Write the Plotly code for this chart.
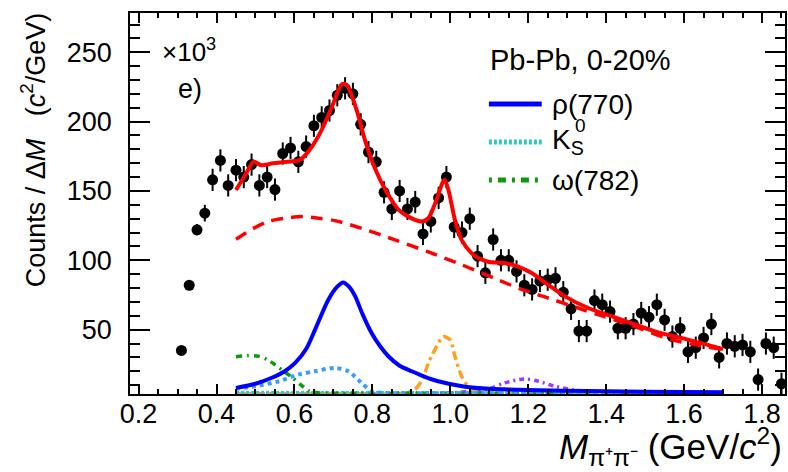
import plotly.graph_objects as go

# ---- measured spectrum: bin centres (GeV/c^2), counts and stat. errors (x10^3) ----
mass = [0.31, 0.33, 0.35, 0.37, 0.39, 0.41, 0.43, 0.45, 0.47, 0.49,
        0.51, 0.53, 0.55, 0.57, 0.59, 0.61, 0.63, 0.65, 0.67, 0.69,
        0.71, 0.73, 0.75, 0.77, 0.79, 0.81, 0.83, 0.85, 0.87, 0.89,
        0.91, 0.93, 0.95, 0.97, 0.99, 1.01, 1.03, 1.05, 1.07, 1.09,
        1.11, 1.13, 1.15, 1.17, 1.19, 1.21, 1.23, 1.25, 1.27, 1.29,
        1.31, 1.33, 1.35, 1.37, 1.39, 1.41, 1.43, 1.45, 1.47, 1.49,
        1.51, 1.53, 1.55, 1.57, 1.59, 1.61, 1.63, 1.65, 1.67, 1.69,
        1.71, 1.73, 1.75, 1.77, 1.79, 1.81, 1.83, 1.85]
counts = [35, 82, 122, 134, 158, 172, 154, 165, 160, 169,
          154, 160, 151, 177, 181, 171, 182, 197, 203, 208,
          219, 224, 220, 198, 178, 171, 149, 137, 150, 137,
          142, 119, 128, 145, 160, 124, 120, 130, 103, 91,
          115, 100, 100, 92, 82, 79, 85, 86, 87, 77,
          65, 49, 49, 71, 68, 63, 51, 51, 54, 62,
          59, 68, 57, 45, 51, 34, 37, 44, 54, 30,
          40, 38, 39, 34, 14, 40, 37, 11]
count_err = [2, 3, 4, 6, 8, 8, 8, 8, 8, 8,
             8, 8, 8, 8, 8, 8, 8, 8, 8, 8,
             8, 8, 8, 8, 8, 8, 8, 8, 8, 8,
             8, 8, 8, 8, 8, 8, 8, 8, 8, 8,
             8, 8, 8, 8, 8, 8, 8, 8, 8, 8,
             8, 8, 8, 8, 8, 8, 8, 8, 8, 8,
             8, 8, 8, 8, 8, 8, 8, 8, 8, 8,
             8, 8, 8, 8, 8, 8, 8, 8]

# ---- fit curves (sampled) ----
total_m = [0.45, 0.475, 0.495, 0.515, 0.545, 0.58, 0.615, 0.645, 0.67, 0.696,
           0.722, 0.735, 0.76, 0.781, 0.807, 0.837, 0.867, 0.892, 0.926, 0.944,
           0.961, 0.985, 0.995, 1.012, 1.029, 1.055, 1.072, 1.097, 1.14, 1.174,
           1.209, 1.251, 1.294, 1.354, 1.439, 1.525, 1.61, 1.70]
total_y = [150.7, 162, 171, 168.5, 170, 171, 172.5, 182, 194, 210.5,
           227, 226, 208, 186.7, 166, 149, 136.5, 131.5, 128, 130.5,
           141, 158, 151, 129, 114.7, 105, 101.6, 99, 98, 95.5,
           90.8, 82.4, 74, 65.6, 57.2, 48.8, 42.8, 36]

bkg_m = [0.45, 0.495, 0.533, 0.576, 0.619, 0.662, 0.704, 0.773, 0.858, 0.944,
         1.029, 1.114, 1.183, 1.251, 1.379, 1.448, 1.568, 1.70]
bkg_y = [115.2, 123, 128, 130.3, 131.5, 130.3, 128.6, 123, 114.7, 106,
         96.8, 87, 79, 72.8, 60.8, 54.8, 42.8, 35.5]

rho_m = [0.45, 0.50, 0.542, 0.575, 0.602, 0.63, 0.653, 0.687, 0.71, 0.725,
         0.74, 0.756, 0.775, 0.798, 0.82, 0.841, 0.87, 0.901, 0.935, 0.969,
         1.038, 1.1, 1.3, 1.5, 1.70]
rho_y = [8, 11, 15.3, 20, 26, 36, 50, 71.6, 81, 84,
         81, 74, 61, 47.6, 38, 30.8, 24, 20, 16, 12.8,
         8.8, 7.3, 6, 5.2, 4.8]

kstar_m = [0.45, 0.50, 0.56, 0.61, 0.653, 0.704, 0.738, 0.772, 0.798, 0.83, 1.2, 1.70]
kstar_y = [7.3, 9.2, 12.8, 17.6, 20, 22.4, 20, 11.7, 5.6, 4.4, 4.3, 4.3]

k0s_m = [0.45, 0.70, 1.0, 1.30, 1.70]
k0s_y = [4.6, 4.5, 4.4, 4.4, 4.3]

omega_m = [0.45, 0.48, 0.508, 0.53, 0.55, 0.57, 0.593, 0.615, 0.636, 0.66, 0.70, 1.2, 1.70]
omega_y = [30.5, 31.3, 30.8, 28.5, 24.8, 20.5, 15.8, 10.5, 6, 4.5, 4.2, 4.1, 4.1]

f0_m = [0.45, 0.7, 0.88, 0.909, 0.93, 0.944, 0.965, 0.982, 0.999, 1.012,
        1.029, 1.046, 1.07, 1.2, 1.70]
f0_y = [3.8, 3.8, 4.2, 6.8, 15, 26, 38, 45, 42.8, 30.8,
        16.4, 9.2, 5, 3.9, 3.8]

f2_m = [0.45, 0.8, 1.0, 1.05, 1.097, 1.14, 1.19, 1.226, 1.268, 1.311, 1.36, 1.45, 1.70]
f2_y = [3.5, 3.6, 4.5, 5.5, 7, 11.6, 14.5, 12.8, 9.2, 6.8, 5, 4.2, 4]

# ---- styles ----
RED = "#ff0000"
BLUE = "#0000ff"
LIGHTBLUE = "#3d9bff"
CYAN = "#33c6c6"
GREEN = "#0a9a0a"
ORANGE = "#ffa020"
PURPLE = "#9b3bff"
FONT = "Liberation Sans, Arial, Helvetica, sans-serif"

fig = go.Figure()

# data points with statistical error bars
fig.add_trace(go.Scatter(
    x=mass, y=counts, mode="markers",
    marker=dict(color="black", size=11),
    error_y=dict(type="data", array=count_err, color="black", thickness=2, width=0),
    hoverinfo="skip"))


def curve(xs, ys, color, width, dash):
    fig.add_trace(go.Scatter(x=xs, y=ys, mode="lines",
                             line=dict(color=color, width=width, dash=dash, shape="spline", smoothing=0.8),
                             hoverinfo="skip"))


curve(f2_m, f2_y, PURPLE, 3.5, "5px,4px,2px,4px")
curve(f0_m, f0_y, ORANGE, 3.5, "9px,4px,3px,4px")
curve(k0s_m, k0s_y, CYAN, 3.5, "3px,2px")
curve(omega_m, omega_y, GREEN, 3.5, "6px,5px,2px,5px")
curve(kstar_m, kstar_y, LIGHTBLUE, 4, "4px,4px")
curve(rho_m, rho_y, BLUE, 4, "solid")
curve(bkg_m, bkg_y, RED, 3.5, "12px,8px")
curve(total_m, total_y, RED, 4, "solid")

# plot frame in pixels: x 130..787, y 13..394
L, R, T, B = 130, 787, 13, 394


def px(xp):
    return (xp - L) / (R - L)


def py(yp):
    return (B - yp) / (B - T)


annotations = []


def text(s, xp, yp, size, xanchor="left", yanchor="middle", angle=0):
    annotations.append(dict(text=s, x=px(xp), y=py(yp), xref="paper", yref="paper",
                            xanchor=xanchor, yanchor=yanchor, showarrow=False,
                            textangle=angle, font=dict(size=size, family=FONT, color="black")))


text("\u00d710<sup>3</sup>", 160, 50, 26)
text("e)", 176, 89, 27)
text("Pb-Pb, 0-20%", 489, 60, 29)
text("\u03c1(770)", 551, 104, 28)
text("K<sub>S</sub>", 551, 142, 28)
text("0", 574, 126, 19)
text("\u03c9(782)", 551, 180, 28)
text("<i>M</i><sub>\u03c0\u207a\u03c0\u207b</sub> (GeV/<i>c</i><sup>2</sup>)", 786, 446, 35, xanchor="right")
text("Counts / \u0394<i>M</i>\u00a0\u00a0\u00a0(<i>c</i><sup>2</sup>/GeV)", 33, 150, 27,
     xanchor="center", angle=-90)

# legend line samples
shapes = []
for yp, color, dash, w in [(104, BLUE, "solid", 5), (142, CYAN, "3px,2px", 5), (180, GREEN, "3px,6px,8px,6px", 5)]:
    shapes.append(dict(type="line", xref="paper", yref="paper",
                       x0=px(490), x1=px(543), y0=py(yp), y1=py(yp),
                       line=dict(color=color, width=w, dash=dash)))

axis_common = dict(showline=True, linecolor="black", linewidth=1.5, mirror="allticks",
                   ticks="inside", tickcolor="black", tickwidth=1.5,
                   showgrid=False, zeroline=False,
                   tickfont=dict(size=27, family=FONT, color="black"))

fig.update_layout(
    width=788, height=472,
    margin=dict(l=L, r=788 - R, t=T, b=472 - B),
    plot_bgcolor="white", paper_bgcolor="white",
    showlegend=False,
    font=dict(family=FONT, color="black"),
    xaxis=dict(range=[0.178, 1.859], tickmode="linear", tick0=0.2, dtick=0.2,
               tickformat=".1f", ticklen=10, ticklabelstandoff=-5,
               minor=dict(ticks="inside", ticklen=5, dtick=0.05, tick0=0.2,
                          tickcolor="black", tickwidth=1.5, showgrid=False),
               **axis_common),
    yaxis=dict(range=[3.6, 278.3], tickmode="linear", tick0=0, dtick=50,
               ticklen=20, ticklabelstandoff=11,
               minor=dict(ticks="inside", ticklen=10, dtick=10, tick0=0,
                          tickcolor="black", tickwidth=1.5, showgrid=False),
               **axis_common),
    annotations=annotations,
    shapes=shapes,
)

fig.write_html("out.html")
